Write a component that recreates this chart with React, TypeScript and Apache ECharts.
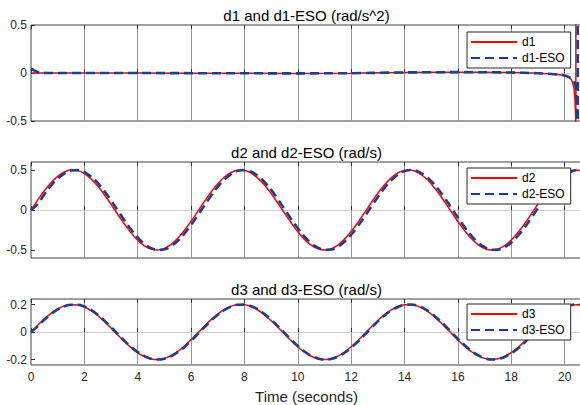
import React, { useEffect, useRef } from "react";
import * as echarts from "echarts";

// ---- data (one row = one second, 0.25 s apart) ----
const TIME = [
  0, 0.25, 0.5, 0.75, 1, 1.25, 1.5, 1.75, 2, 2.25, 2.5, 2.75, 3, 3.25, 3.5, 3.75,
  4, 4.25, 4.5, 4.75, 5, 5.25, 5.5, 5.75, 6, 6.25, 6.5, 6.75, 7, 7.25, 7.5, 7.75,
  8, 8.25, 8.5, 8.75, 9, 9.25, 9.5, 9.75, 10, 10.25, 10.5, 10.75, 11, 11.25, 11.5, 11.75,
  12, 12.25, 12.5, 12.75, 13, 13.25, 13.5, 13.75, 14, 14.25, 14.5, 14.75, 15, 15.25, 15.5, 15.75,
  16, 16.25, 16.5, 16.75, 17, 17.25, 17.5, 17.75, 18, 18.25, 18.5, 18.75, 19, 19.25, 19.5, 19.75,
  20, 20.25, 20.5, 20.75, 21,
];

const D2 = [
  0, 0.124, 0.24, 0.341, 0.42, 0.475, 0.499, 0.492,
  0.455, 0.389, 0.299, 0.191, 0.071, -0.054, -0.175, -0.286,
  -0.378, -0.448, -0.489, -0.5, -0.479, -0.429, -0.353, -0.254,
  -0.14, -0.017, 0.108, 0.225, 0.329, 0.412, 0.469, 0.497,
  0.495, 0.461, 0.399, 0.312, 0.206, 0.087, -0.038, -0.16,
  -0.272, -0.367, -0.44, -0.485, -0.5, -0.484, -0.438, -0.364,
  -0.268, -0.156, -0.033, 0.091, 0.21, 0.316, 0.402, 0.463,
  0.495, 0.497, 0.467, 0.409, 0.325, 0.221, 0.103, -0.021,
  -0.144, -0.258, -0.356, -0.432, -0.481, -0.5, -0.488, -0.446,
  -0.376, -0.282, -0.171, -0.05, 0.075, 0.195, 0.303, 0.392,
  0.456, 0.493, 0.498, 0.473, 0.418,
];
const D2_ESO = [
  0, 0.075, 0.195, 0.303, 0.392, 0.456, 0.493, 0.498,
  0.473, 0.418, 0.338, 0.236, 0.12, -0.004, -0.128, -0.243,
  -0.344, -0.423, -0.476, -0.499, -0.491, -0.453, -0.386, -0.296,
  -0.187, -0.066, 0.058, 0.179, 0.289, 0.381, 0.449, 0.49,
  0.5, 0.478, 0.427, 0.35, 0.251, 0.136, 0.012, -0.112,
  -0.229, -0.332, -0.414, -0.47, -0.498, -0.494, -0.46, -0.397,
  -0.309, -0.202, -0.083, 0.042, 0.164, 0.276, 0.37, 0.442,
  0.486, 0.5, 0.483, 0.436, 0.362, 0.265, 0.152, 0.029,
  -0.095, -0.214, -0.32, -0.405, -0.465, -0.496, -0.496, -0.466,
  -0.407, -0.322, -0.217, -0.099, 0.025, 0.148, 0.262, 0.359,
  0.434, 0.482, 0.5, 0.487, 0.443,
];
const D3 = [
  0, 0.049, 0.096, 0.136, 0.168, 0.19, 0.199, 0.197,
  0.182, 0.156, 0.12, 0.076, 0.028, -0.022, -0.07, -0.114,
  -0.151, -0.179, -0.196, -0.2, -0.192, -0.172, -0.141, -0.102,
  -0.056, -0.007, 0.043, 0.09, 0.131, 0.165, 0.188, 0.199,
  0.198, 0.185, 0.16, 0.125, 0.082, 0.035, -0.015, -0.064,
  -0.109, -0.147, -0.176, -0.194, -0.2, -0.194, -0.175, -0.146,
  -0.107, -0.062, -0.013, 0.037, 0.084, 0.126, 0.161, 0.185,
  0.198, 0.199, 0.187, 0.164, 0.13, 0.088, 0.041, -0.008,
  -0.058, -0.103, -0.142, -0.173, -0.192, -0.2, -0.195, -0.178,
  -0.15, -0.113, -0.068, -0.02, 0.03, 0.078, 0.121, 0.157,
  0.183, 0.197, 0.199, 0.189, 0.167,
];
const D3_ESO = [
  0, 0.041, 0.089, 0.13, 0.164, 0.187, 0.198, 0.198,
  0.185, 0.161, 0.126, 0.083, 0.036, -0.014, -0.063, -0.107,
  -0.146, -0.175, -0.194, -0.2, -0.194, -0.176, -0.147, -0.109,
  -0.064, -0.015, 0.035, 0.083, 0.125, 0.16, 0.185, 0.198,
  0.199, 0.188, 0.165, 0.131, 0.089, 0.043, -0.007, -0.056,
  -0.102, -0.142, -0.172, -0.192, -0.2, -0.196, -0.179, -0.151,
  -0.114, -0.07, -0.021, 0.029, 0.077, 0.12, 0.156, 0.182,
  0.197, 0.2, 0.19, 0.169, 0.136, 0.095, 0.049, 0,
  -0.05, -0.096, -0.136, -0.169, -0.19, -0.2, -0.197, -0.182,
  -0.155, -0.12, -0.076, -0.028, 0.022, 0.071, 0.115, 0.152,
  0.18, 0.196, 0.2, 0.192, 0.171,
];

const D1_TIME = [
  0, 0.5, 1, 2, 4, 6, 8, 10, 12, 13, 14, 15, 16, 17, 18, 18.5, 19, 19.5, 19.8, 20,
  20.1, 20.2, 20.25, 20.3, 20.35, 20.38, 20.41, 20.42, 20.421, 20.5, 20.6,
];
const D1 = [
  0, 0, 0, 0, 0, -0.002, -0.003, -0.004, -0.002, 0.002, 0.006, 0.008, 0.009, 0.008,
  0.005, 0.002, -0.003, -0.01, -0.018, -0.028, -0.038, -0.055, -0.07, -0.1, -0.16,
  -0.25, -0.45, -4, 4, 1.2, 0.7,
];
const D1_ESO_TIME = [
  0, 0.05, 0.1, 0.2, 0.3, 0.4, 0.6, 1, 2, 4, 6, 8, 10, 12, 13, 14, 15, 16, 17, 18,
  18.5, 19, 19.5, 19.8, 20, 20.1, 20.2, 20.3, 20.35, 20.4, 20.44, 20.47, 20.49,
  20.491, 20.55,
];
const D1_ESO = [
  0.045, 0.04, 0.03, 0.015, 0.006, 0.002, 0, 0, 0, 0, -0.002, -0.003, -0.004, -0.002,
  0.002, 0.006, 0.008, 0.009, 0.008, 0.005, 0.002, -0.003, -0.01, -0.017, -0.026,
  -0.035, -0.048, -0.065, -0.085, -0.12, -0.2, -0.4, -4, 4, 1.5,
];

const TITLES = ["d1 and d1-ESO (rad/s^2)", "d2 and d2-ESO (rad/s)", "d3 and d3-ESO (rad/s)"];
const SERIES_NAMES = [
  ["d1", "d1-ESO"],
  ["d2", "d2-ESO"],
  ["d3", "d3-ESO"],
];
const Y_RANGES = [
  [-0.5, 0.5],
  [-0.6, 0.6],
  [-0.24, 0.24],
];
const Y_TICKS = [
  [-0.5, 0, 0.5],
  [-0.5, 0, 0.5],
  [-0.2, 0, 0.2],
];
const X_MAX = 20.65;
const X_LABEL = "Time (seconds)";

// ---- layout ----
const FONT = "'Liberation Sans', Arial, Helvetica, sans-serif";
const CHART_W = 600;
const CHART_H = 405;
const LEFT = 31;
const PLOT_RIGHT = 582;
const GRID_TOPS = [25, 162, 299];
const GRID_HEIGHTS = [96, 96, 66];
const LEGEND_TOPS = [32, 168, 304];
const TITLE_YS = [15.5, 152.5, 289.5];
const RED = "#ff0000";
const BLUE = "#1c3d93";

const zip = (xs: number[], ys: number[]) => xs.map((x, i) => [x, ys[i]]);

function fmtTick(v: number) {
  const r = Math.round(v * 1000) / 1000;
  return r === 0 ? "0" : String(r);
}

export default function App() {
  const ref = useRef<HTMLDivElement | null>(null);

  useEffect(() => {
    if (!ref.current) return;
    const chart = echarts.init(ref.current, undefined, { renderer: "svg" });

    const grids = GRID_TOPS.map((top, i) => ({
      left: LEFT,
      right: CHART_W - PLOT_RIGHT,
      top,
      height: GRID_HEIGHTS[i],
      show: true,
      borderColor: "#404040",
      borderWidth: 1,
      backgroundColor: "#ffffff",
      containLabel: false,
    }));

    const xAxes: any[] = [];
    GRID_TOPS.forEach((_, i) => {
      const isBottom = i === 2;
      xAxes.push({
        type: "value",
        gridIndex: i,
        min: 0,
        max: X_MAX,
        interval: 2,
        position: "bottom",
        axisLine: { show: false },
        axisTick: { show: true, inside: true, length: 4, lineStyle: { color: "#333", width: 1 } },
        axisLabel: {
          show: isBottom,
          margin: 6,
          fontSize: 12,
          fontFamily: FONT,
          color: "#262626",
          formatter: (v: number) => (v > 20.1 ? "" : fmtTick(v)),
        },
        splitLine: {
          show: true,
          showMinLine: false,
          lineStyle: { color: "#969696", width: 1 },
        },
        name: isBottom ? X_LABEL : "",
        nameLocation: "middle",
        nameGap: 24,
        nameTextStyle: { fontSize: 15, fontFamily: FONT, color: "#262626" },
      });
      xAxes.push({
        type: "value",
        gridIndex: i,
        min: 0,
        max: X_MAX,
        interval: 2,
        position: "top",
        axisLine: { show: false },
        axisTick: { show: true, inside: true, length: 4, lineStyle: { color: "#333", width: 1 } },
        axisLabel: { show: false },
        splitLine: { show: false },
      });
    });

    const yAxes = GRID_TOPS.map((_, i) => ({
      type: "value",
      gridIndex: i,
      min: Y_RANGES[i][0],
      max: Y_RANGES[i][1],
      axisLine: { show: false },
      axisTick: {
        show: true,
        inside: true,
        length: 4,
        customValues: Y_TICKS[i],
        lineStyle: { color: "#333", width: 1 },
      },
      axisLabel: {
        show: true,
        margin: 4,
        fontSize: 12,
        fontFamily: FONT,
        color: "#262626",
        customValues: Y_TICKS[i],
        formatter: (v: number) => fmtTick(v),
      },
      splitLine: {
        show: true,
        showMinLine: false,
        showMaxLine: false,
        lineStyle: { color: "#cfcfcf", width: 1 },
      },
    }));

    const pairs = [
      [zip(D1_TIME, D1), zip(D1_ESO_TIME, D1_ESO)],
      [zip(TIME, D2), zip(TIME, D2_ESO)],
      [zip(TIME, D3), zip(TIME, D3_ESO)],
    ];

    const series: any[] = [];
    pairs.forEach((p, i) => {
      series.push({
        type: "line",
        name: SERIES_NAMES[i][0],
        xAxisIndex: i * 2,
        yAxisIndex: i,
        data: p[0],
        symbol: "none",
        showSymbol: false,
        smooth: i === 0 ? false : 0.4,
        clip: true,
        z: 2,
        lineStyle: { color: RED, width: 1.5 },
        itemStyle: { color: RED },
      });
      series.push({
        type: "line",
        name: SERIES_NAMES[i][1],
        xAxisIndex: i * 2,
        yAxisIndex: i,
        data: p[1],
        symbol: "none",
        showSymbol: false,
        smooth: i === 0 ? false : 0.4,
        clip: true,
        z: 3,
        lineStyle: { color: BLUE, width: 2.6, type: [9, 5] },
        itemStyle: { color: BLUE },
      });
    });

    const legends = LEGEND_TOPS.map((top, i) => ({
      data: SERIES_NAMES[i],
      orient: "vertical",
      left: 467,
      top,
      itemWidth: 46,
      itemHeight: 14,
      itemGap: 4,
      padding: [4, 6, 4, 3],
      borderColor: "#262626",
      borderWidth: 1,
      borderRadius: 0,
      backgroundColor: "#ffffff",
      selectedMode: false,
      itemStyle: { opacity: 0, borderWidth: 0 },
      textStyle: { fontSize: 12, fontFamily: FONT, color: "#000" },
    }));

    const graphic = TITLES.map((t, i) => ({
      type: "text",
      x: (LEFT + PLOT_RIGHT) / 2,
      y: TITLE_YS[i],
      z: 10,
      style: {
        text: t,
        fontSize: 15,
        fontFamily: FONT,
        fill: "#000",
        align: "center",
        verticalAlign: "middle",
      },
    }));

    chart.setOption({
      animation: false,
      backgroundColor: "#ffffff",
      grid: grids,
      xAxis: xAxes,
      yAxis: yAxes,
      legend: legends,
      series,
      graphic,
    });

    return () => chart.dispose();
  }, []);

  return (
    <div
      style={{
        position: "fixed",
        left: 0,
        top: 0,
        width: 580,
        height: 405,
        overflow: "hidden",
        background: "#fff",
      }}
    >
      <div ref={ref} style={{ width: CHART_W, height: CHART_H }} />
    </div>
  );
}
